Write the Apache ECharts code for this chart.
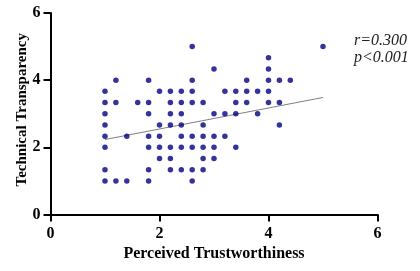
<!DOCTYPE html>
<html><head><meta charset="utf-8">
<script src="https://cdn.jsdelivr.net/npm/echarts@6/dist/echarts.min.js"></script>
<style>html,body{margin:0;padding:0;background:#fff}#c{width:420px;height:271px}</style>
</head><body><div id="c"></div>
<script>
// Perceived Trustworthiness (x) values and Technical Transparency (y) values
const xValues = [
  1,1,1,1,1,1,1,1,
  1.2,1.2,1.2,
  1.4,1.4,
  1.6,
  1.8,1.8,1.8,1.8,1.8,1.8,1.8,
  2,2,2,2,2,
  2.2,2.2,2.2,2.2,2.2,2.2,2.2,
  2.4,2.4,2.4,2.4,2.4,2.4,2.4,
  2.6,2.6,2.6,2.6,2.6,2.6,2.6,2.6,
  2.8,2.8,2.8,2.8,2.8,2.8,
  3,3,3,3,3,
  3.2,3.2,3.2,
  3.4,3.4,3.4,3.4,
  3.6,3.6,3.6,
  3.8,3.8,
  4,4,4,4,4,
  4.2,4.2,4.2,
  4.4,
  5
];
const yValues = [
  11/3,10/3,3,8/3,7/3,2,4/3,1,
  4,10/3,1,
  7/3,1,
  10/3,
  4,10/3,3,7/3,2,4/3,1,
  11/3,8/3,7/3,2,5/3,
  11/3,10/3,3,8/3,2,5/3,4/3,
  11/3,10/3,3,8/3,7/3,2,4/3,
  5,4,11/3,10/3,7/3,2,4/3,1,
  10/3,8/3,7/3,2,5/3,4/3,
  13/3,3,7/3,2,5/3,
  11/3,3,7/3,
  11/3,10/3,3,2,
  4,11/3,10/3,
  11/3,3,
  14/3,13/3,4,11/3,10/3,
  4,10/3,8/3,
  4,
  5
];
// Regression line: y = intercept + slope * x, drawn over this x range
const fitIntercept = 1.92;
const fitSlope = 0.313;
const fitRange = [1, 5];
const xTicks = [0, 2, 4, 6];
const yTicks = [0, 2, 4, 6];
const statLines = ['r=0.300', 'p<0.001'];

const points = xValues.map((x, i) => [x, yValues[i]]);
const fitLine = fitRange.map(x => [x, fitIntercept + fitSlope * x]);

const chart = echarts.init(document.getElementById('c'), null, {renderer: 'canvas'});
const serif = '"Liberation Serif","Times New Roman",serif';
const axisCommon = {
  min: 0, max: 6, interval: 2,
  splitLine: {show: false},
  nameMoveOverlap: false,
  axisLine: {show: true, onZero: false, lineStyle: {color: '#000', width: 2}},
  axisTick: {show: true, inside: false, length: 7, lineStyle: {color: '#000', width: 2}},
  axisLabel: {color: '#000', fontFamily: serif, fontWeight: 'bold', fontSize: 16}
};
chart.setOption({
  animation: false,
  backgroundColor: '#fff',
  grid: {left: 50.5, right: 42.5, top: 13, bottom: 56.5, containLabel: false},
  xAxis: Object.assign({}, axisCommon, {
    type: 'value', name: 'Perceived Trustworthiness', nameLocation: 'middle', nameGap: 31,
    nameTextStyle: {color: '#000', fontFamily: serif, fontWeight: 'bold', fontSize: 16},
    axisLabel: Object.assign({}, axisCommon.axisLabel, {margin: 11, formatter: v => xTicks.includes(v) ? String(v) : ''})
  }),
  yAxis: Object.assign({}, axisCommon, {
    type: 'value', name: 'Technical Transparency', nameLocation: 'middle', nameGap: 21,
    nameTextStyle: {color: '#000', fontFamily: serif, fontWeight: 'bold', fontSize: 15, padding: [0, 0, 0, 8]},
    axisLabel: Object.assign({}, axisCommon.axisLabel, {margin: 10, formatter: v => yTicks.includes(v) ? String(v) : ''})
  }),
  graphic: [{
    type: 'text', left: 354, top: 32,
    style: {text: statLines.join('\n'), font: 'italic 16px ' + serif, fill: '#222', lineHeight: 17, textAlign: 'left'}
  }],
  series: [
    {type: 'scatter', data: points, symbolSize: 5.5, itemStyle: {color: '#000080'}, z: 3},
    {type: 'line', data: fitLine, symbol: 'none', lineStyle: {color: '#808080', width: 1}, z: 2}
  ]
});
</script></body></html>
